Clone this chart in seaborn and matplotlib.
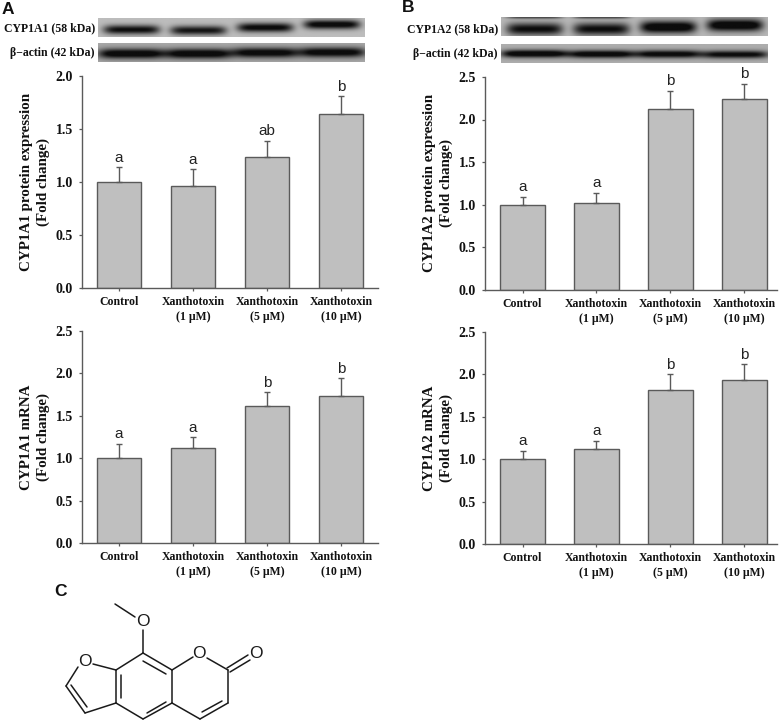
import numpy as np
import pandas as pd
import seaborn as sns
from matplotlib import pyplot as plt

groups = ["Control", "Xanthotoxin\n(1 µM)", "Xanthotoxin\n(5 µM)", "Xanthotoxin\n(10 µM)"]

a_protein = [1.00, 0.96, 1.24, 1.64]
a_protein_err = [0.14, 0.16, 0.15, 0.17]
a_protein_sig = ["a", "a", "ab", "b"]

a_mrna = [1.00, 1.12, 1.62, 1.73]
a_mrna_err = [0.17, 0.13, 0.16, 0.21]
a_mrna_sig = ["a", "a", "b", "b"]

b_protein = [1.00, 1.02, 2.12, 2.24]
b_protein_err = [0.09, 0.12, 0.22, 0.18]
b_protein_sig = ["a", "a", "b", "b"]

b_mrna = [1.00, 1.12, 1.82, 1.93]
b_mrna_err = [0.10, 0.10, 0.18, 0.19]
b_mrna_sig = ["a", "a", "b", "b"]

# band strength and height per lane, read by eye from the blots
blot_a_target = [0.95, 0.90, 1.00, 1.05]
blot_a_target_y = [0.60, 0.64, 0.49, 0.33]
blot_a_actin = [1.10, 1.10, 1.05, 1.05]
blot_a_actin_y = [0.55, 0.55, 0.50, 0.48]
blot_b_target = [0.95, 0.95, 1.15, 1.15]
blot_b_target_y = [0.62, 0.62, 0.52, 0.42]
blot_b_top = [0.6, 0.6, 0.0, 0.0]
blot_b_actin = [1.15, 1.10, 1.05, 1.00]
blot_b_actin_y = [0.50, 0.52, 0.52, 0.54]

W, H = 784, 721
SERIF = "Liberation Serif"
SANS = "Liberation Sans"
AXIS_GRAY = "#5a5a5a"

sns.set_theme(style="white")
plt.rcParams["font.family"] = [SERIF, "DejaVu Sans"]

fig = plt.figure(figsize=(W / 100, H / 100), dpi=100)


def px_axes(left, top, right, bottom):
  return fig.add_axes([left / W, 1 - bottom / H, (right - left) / W, (bottom - top) / H])


def bar_panel(rect, values, errs, sig, ylabel, ymax, xlim, label_x):
  ax = px_axes(*rect)
  df = pd.DataFrame({"group": groups, "value": values})
  sns.barplot(data=df, x="group", y="value", color="#bfbfbf", saturation=1, width=0.6,
              edgecolor=AXIS_GRAY, linewidth=1.0, ax=ax)
  ax.errorbar(range(4), values, yerr=[np.zeros(4), errs], fmt="none", ecolor=AXIS_GRAY,
              elinewidth=1.0, capsize=2.5, capthick=1.0)
  for i, s in enumerate(sig):
    ax.annotate(s, (i, values[i] + errs[i]), xytext=(0, 1.8), textcoords="offset points",
                ha="center", va="bottom", family=SANS, fontsize=11, color="#222222")
  ax.set_xlim(*xlim)
  ax.set_ylim(0, ymax)
  yticks = np.arange(0, ymax + 0.01, 0.5)
  ax.set_yticks(yticks)
  ax.set_yticklabels([f"{t:.1f}" for t in yticks], fontsize=10, fontweight="bold", color="#111111")
  ax.set_xticks(range(4))
  ax.set_xticklabels(groups, fontsize=8.5, fontweight="bold", color="#111111", linespacing=1.35)
  ax.tick_params(axis="y", left=True, length=2.5, width=0.9, color=AXIS_GRAY, pad=4)
  ax.tick_params(axis="x", bottom=True, length=2, width=0.9, color=AXIS_GRAY, pad=4)
  ax.set_xlabel("")
  ax.set_ylabel(ylabel, fontsize=10.8, fontweight="bold", color="#111111", linespacing=1.3)
  ax.yaxis.set_label_coords(label_x, 0.5)
  sns.despine(ax=ax)
  for side in ["left", "bottom"]:
    ax.spines[side].set_color(AXIS_GRAY)
    ax.spines[side].set_linewidth(1.0)
  return ax


def blot(rect, strengths, band_y, thickness, half_width, bg, top=None):
  ax = px_axes(*rect)
  height, width = 40, 400
  yy, xx = np.mgrid[0:height, 0:width]
  img = np.full((height, width), bg, dtype=float)
  centers = (np.arange(4) + 0.5) * width / 4
  for c, s, y in zip(centers, strengths, band_y):
    across = np.exp(-((xx - c) / (width * half_width)) ** 6)
    down = np.exp(-((yy - height * y) / (height * thickness)) ** 2)
    img -= s * bg * across * down
  if top is not None:
    for c, s in zip(centers, top):
      across = np.exp(-((xx - c) / (width * half_width)) ** 6)
      img -= s * bg * across * np.exp(-(yy / (height * 0.08)) ** 2)
  ax.imshow(np.clip(img, 0.05, 1), cmap="gray", vmin=0, vmax=1, aspect="auto", interpolation="bilinear")
  ax.axis("off")


a_xlim = (-0.5, 3.5)
b_xlim = (-0.507, 3.44)
bar_panel((82, 76, 378, 288), a_protein, a_protein_err, a_protein_sig,
          "CYP1A1 protein expression\n(Fold change)", 2.0, a_xlim, -0.108)
bar_panel((82, 331, 378, 543), a_mrna, a_mrna_err, a_mrna_sig,
          "CYP1A1 mRNA\n(Fold change)", 2.5, a_xlim, -0.108)
bar_panel((485, 77, 777, 289.5), b_protein, b_protein_err, b_protein_sig,
          "CYP1A2 protein expression\n(Fold change)", 2.5, b_xlim, -0.111)
bar_panel((485, 332, 777, 544), b_mrna, b_mrna_err, b_mrna_sig,
          "CYP1A2 mRNA\n(Fold change)", 2.5, b_xlim, -0.111)

blot((98, 18, 365, 37), blot_a_target, blot_a_target_y, 0.24, 0.105, 0.74)
blot((98, 43, 365, 62), blot_a_actin, blot_a_actin_y, 0.26, 0.125, 0.66)
blot((501, 17, 768, 36), blot_b_target, blot_b_target_y, 0.32, 0.105, 0.72, top=blot_b_top)
blot((501, 44, 768, 63), blot_b_actin, blot_b_actin_y, 0.20, 0.125, 0.68)

# overlay in pixel coordinates for labels and the structure in panel C
over = fig.add_axes([0, 0, 1, 1], facecolor="none")
over.set_xlim(0, W)
over.set_ylim(H, 0)
over.axis("off")

for x, y, s in [(95, 28, "CYP1A1 (58 kDa)"), (95, 53, "β−actin (42 kDa)"),
                (498, 29, "CYP1A2 (58 kDa)"), (498, 54, "β−actin (42 kDa)")]:
  over.text(x, y, s, ha="right", va="center", fontsize=8.5, fontweight="bold", color="#111111")

for x, y, s in [(2, 10, "A"), (402, 8, "B"), (54, 591, "C")]:
  over.text(x, y, s, ha="left", va="center", family=SANS, fontsize=12.5, fontweight="bold", color="#111111")

bonds = [
  ((115, 604), (135, 617)), ((143, 630), (143, 653)),
  ((143, 653), (172, 670)), ((172, 670), (172, 703)), ((172, 703), (143, 719)),
  ((143, 719), (116, 703)), ((116, 703), (116, 670)), ((116, 670), (143, 653)),
  ((143, 661), (166, 674)), ((121, 675), (121, 698)), ((147, 713), (166, 702)),
  ((116, 670), (93, 664)), ((78, 667), (66, 686)), ((66, 686), (85, 713)),
  ((71, 685), (87, 707)), ((85, 713), (116, 703)),
  ((172, 670), (193, 657)), ((207, 658), (228, 670)), ((228, 670), (228, 703)),
  ((228, 703), (200, 719)), ((200, 719), (172, 703)), ((222, 701), (202, 712)),
  ((227, 668), (248, 655)), ((230, 672), (250, 660)),
]
for p, q in bonds:
  over.plot([p[0], q[0]], [p[1], q[1]], color="#1a1a1a", lw=1.1, solid_capstyle="round")

for x, y in [(143, 622), (85, 661), (199, 654), (256, 654)]:
  over.text(x, y, "O", ha="center", va="center", family=SANS, fontsize=12.5, color="#1a1a1a")

fig.savefig("out.png", dpi=100)
